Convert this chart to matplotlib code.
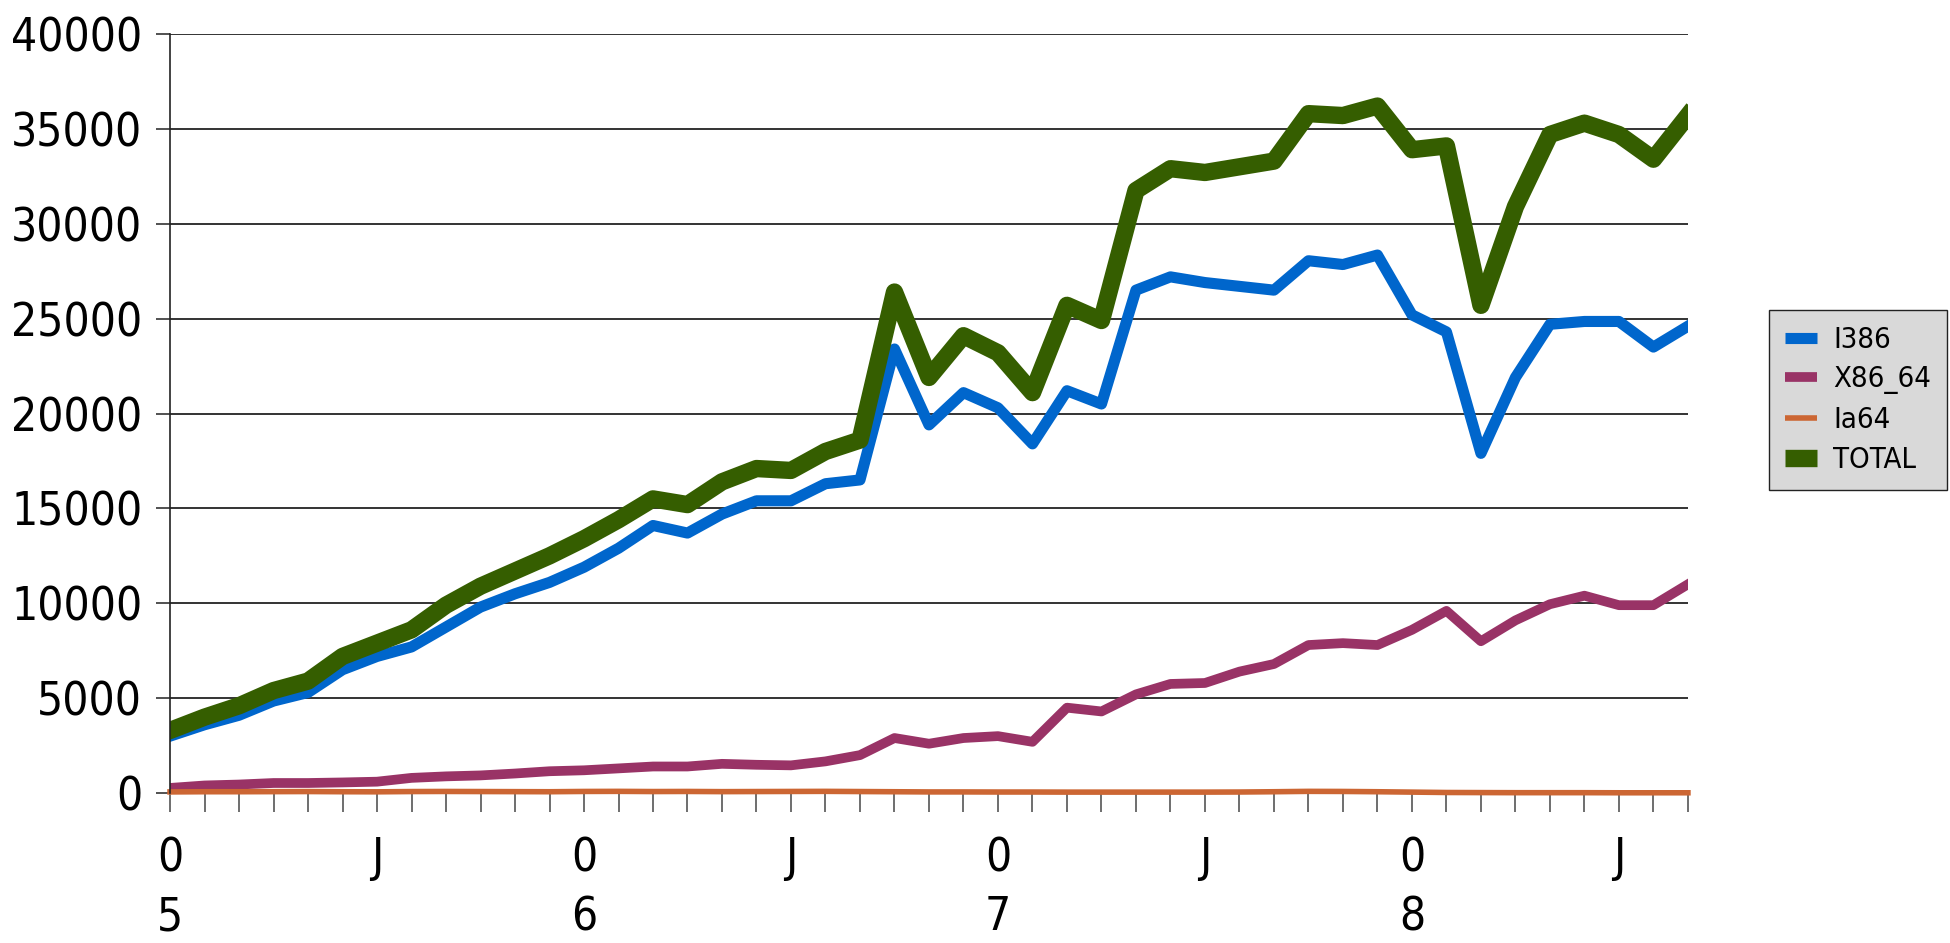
import numpy as np
import matplotlib
matplotlib.use("Agg")
import matplotlib.pyplot as plt

# monthly counts, Oct 2005 onwards
months = np.arange(45)
i386 = [3000, 3600, 4100, 4850, 5300, 6500, 7200, 7700, 8750, 9800, 10500, 11100,
        11900, 12900, 14100, 13700, 14700, 15400, 15400, 16300, 16500, 23400,
        19400, 21100, 20300, 18400, 21200, 20500, 26500, 27200, 26900, 26700, 26500,
        28050, 27850, 28350, 25200, 24300, 17900, 21900, 24700, 24850, 24850, 23500, 24600]
x86_64 = [270, 400, 450, 530, 530, 560, 600, 800, 880, 930, 1030, 1150,
          1200, 1300, 1400, 1400, 1540, 1490, 1460, 1670, 2000, 2900,
          2600, 2900, 3000, 2700, 4500, 4300, 5200, 5750, 5800, 6400, 6800,
          7800, 7900, 7800, 8600, 9600, 8000, 9100, 9950, 10400, 9900, 9900, 11000]
ia64 = [60, 70, 70, 75, 80, 70, 65, 80, 85, 80, 75, 70,
        85, 90, 80, 85, 75, 80, 85, 90, 80, 70,
        60, 60, 55, 55, 50, 50, 50, 50, 50, 55, 70,
        90, 85, 70, 50, 30, 25, 20, 20, 20, 15, 15, 15]
total = [3300, 4000, 4600, 5400, 5900, 7200, 7900, 8600, 9900, 10900, 11700, 12500,
         13400, 14400, 15500, 15200, 16400, 17100, 17000, 18000, 18600, 26400,
         21900, 24100, 23200, 21100, 25700, 24900, 31750, 32900, 32700, 33000, 33300,
         35800, 35700, 36200, 33900, 34100, 25700, 30900, 34700, 35300, 34700, 33400, 35700]
xlabels = {0: "0\n5", 6: "J", 12: "0\n6", 18: "J", 24: "0\n7", 30: "J", 36: "0\n8", 42: "J"}
yticks = [0, 5000, 10000, 15000, 20000, 25000, 30000, 35000, 40000]

fig = plt.figure(figsize=(19.5, 9.43), dpi=100)
ax = fig.add_axes([0.0872, 0.159, 0.7784, 0.805])

ax.plot(months, i386, color="#0066cc", lw=8, label="I386", solid_joinstyle="round")
ax.plot(months, x86_64, color="#993366", lw=7, label="X86_64", solid_joinstyle="round")
ax.plot(months, ia64, color="#cc6633", lw=4, label="Ia64", solid_joinstyle="round",
        clip_on=False)
ax.plot(months, total, color="#355e00", lw=12.5, label="TOTAL", solid_joinstyle="round")

ax.set_xlim(0, 44)
ax.set_ylim(0, 40000)
ax.set_yticks(yticks)
ax.set_yticklabels([str(v) for v in yticks])
ax.set_xticks(months)
ax.set_xticklabels([xlabels.get(m, "") for m in months])
ax.yaxis.grid(True, color="#333333", lw=1.4)
ax.set_axisbelow(True)
for s in ["top", "right", "bottom"]:
    ax.spines[s].set_visible(False)
ax.spines["left"].set_color("#222222")
ax.spines["left"].set_linewidth(1.2)

ax.tick_params(axis="y", length=10, width=1.2, color="#333333", pad=10)
ax.tick_params(axis="x", length=14, width=1.2, color="#555555", pad=17)
for lab in ax.get_yticklabels() + ax.get_xticklabels():
    lab.set_fontsize(33)
    lab.set_fontstretch("condensed")
for lab in ax.get_xticklabels():
    lab.set_linespacing(1.4)

leg = fig.legend(loc="center", bbox_to_anchor=(0.953, 0.576), fontsize=21,
                 fancybox=False, framealpha=1, facecolor="#d9d9d9", edgecolor="#222222",
                 handlelength=1.1, handletextpad=0.55, labelspacing=0.4, borderpad=0.55)
for h in leg.legend_handles:
    h.set_solid_capstyle("butt")
for t in leg.get_texts():
    t.set_fontstretch("condensed")

fig.savefig("out.png", dpi=100)
